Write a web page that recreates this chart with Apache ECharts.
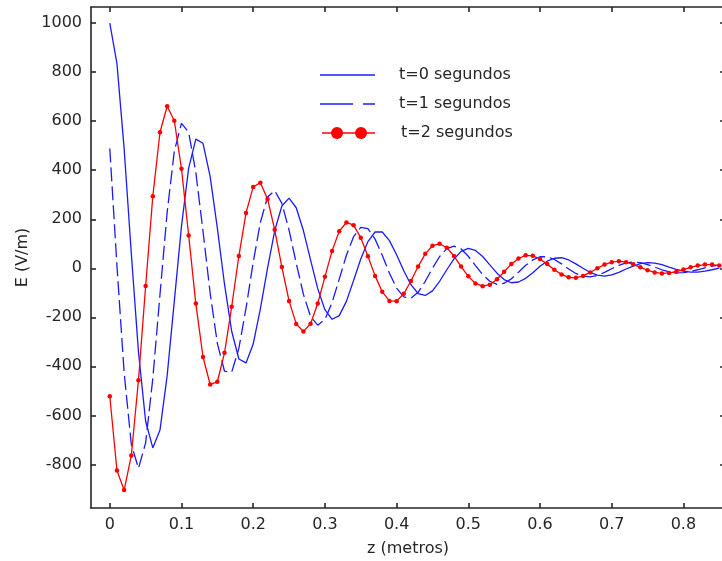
<!DOCTYPE html>
<html>
<head>
<meta charset="utf-8">
<script src="https://cdn.jsdelivr.net/npm/echarts@6/dist/echarts.min.js"></script>
<style>
  html, body { margin: 0; padding: 0; background: #fff; }
  #chart { width: 722px; height: 561px; }
</style>
</head>
<body>
<div id="chart"></div>
<script>
// posiciones z (m) muestreadas cada 0.01
const zMetros = [
  0, 0.01, 0.02, 0.03, 0.04, 0.05, 0.06, 0.07, 0.08, 0.09,
  0.1, 0.11, 0.12, 0.13, 0.14, 0.15, 0.16, 0.17, 0.18, 0.19,
  0.2, 0.21, 0.22, 0.23, 0.24, 0.25, 0.26, 0.27, 0.28, 0.29,
  0.3, 0.31, 0.32, 0.33, 0.34, 0.35, 0.36, 0.37, 0.38, 0.39,
  0.4, 0.41, 0.42, 0.43, 0.44, 0.45, 0.46, 0.47, 0.48, 0.49,
  0.5, 0.51, 0.52, 0.53, 0.54, 0.55, 0.56, 0.57, 0.58, 0.59,
  0.6, 0.61, 0.62, 0.63, 0.64, 0.65, 0.66, 0.67, 0.68, 0.69,
  0.7, 0.71, 0.72, 0.73, 0.74, 0.75, 0.76, 0.77, 0.78, 0.79,
  0.8, 0.81, 0.82, 0.83, 0.84, 0.85
]

// campo E (V/m)
const eT0 = [
  1000, 835, 489, 61, -341, -624, -733, -660, -438, -134,
  172, 409, 527, 510, 374, 164, -65, -257, -370, -386,
  -309, -166, 1, 153, 254, 286, 247, 154, 34, -83,
  -169, -208, -193, -135, -50, 38, 109, 148, 148, 113,
  55, -10, -67, -103, -111, -92, -53, -6, 38, 69,
  81, 73, 48, 14, -20, -46, -59, -56, -41, -18,
  8, 29, 41, 43, 34, 18, 0, -17, -28, -32,
  -27, -17, -3, 9, 19, 23, 21, 15, 5, -4,
  -12, -16, -16, -12, -6, 1
]
const eT1 = [
  489, 10, -425, -718, -816, -712, -450, -107, 228, 478,
  591, 555, 391, 151, -102, -306, -420, -424, -327, -163,
  24, 187, 291, 317, 265, 156, 21, -106, -197, -232,
  -209, -140, -44, 53, 129, 167, 162, 119, 53, -20,
  -81, -117, -122, -98, -53, 0, 48, 80, 90, 79,
  49, 11, -26, -53, -66, -61, -43, -16, 12, 34,
  47, 47, 36, 18, -3, -21, -32, -35, -29, -17,
  -2, 12, 22, 26, 23, 15, 5, -6, -14, -19,
  -18, -13, -6, 2, 9, 13
]
const eT2 = [
  -522, -825, -905, -764, -457, -72, 294, 555, 661, 602,
  406, 134, -144, -362, -474, -463, -345, -157, 50, 226,
  332, 349, 283, 157, 5, -133, -227, -258, -226, -144,
  -35, 71, 151, 187, 176, 125, 49, -31, -96, -133,
  -134, -104, -52, 7, 59, 92, 100, 84, 50, 7,
  -33, -62, -73, -67, -45, -14, 17, 40, 53, 51,
  38, 17, -6, -25, -37, -39, -31, -17, 0, 15,
  25, 29, 25, 16, 4, -8, -17, -21, -19, -14,
  -5, 4, 11, 15, 15, 11
]

const xTicks = [0, 0.1, 0.2, 0.3, 0.4, 0.5, 0.6, 0.7, 0.8]
const yTicks = [-800, -600, -400, -200, 0, 200, 400, 600, 800, 1000]
const seriesNames = ['t=0 segundos', 't=1 segundos', 't=2 segundos']

const font = 'DejaVu Sans'
const ink = '#262626'
const blue = '#1a1aff'
const red = '#ff0000'

const zip = (ys) => zMetros.map((z, i) => [z, ys[i]])

const frameLine = { show: true, onZero: false, lineStyle: { color: ink, width: 1.6 } }
const xTick = { show: true, inside: true, length: 5, customValues: xTicks, lineStyle: { color: ink, width: 1.6 } }
const yTick = { show: true, inside: true, length: 5, customValues: yTicks, lineStyle: { color: ink, width: 1.6 } }

const chart = echarts.init(document.getElementById('chart'), null, { renderer: 'canvas' })

chart.setOption({
  animation: false,
  backgroundColor: '#fff',
  grid: { left: 91, top: 7, width: 634, height: 501, containLabel: false, outerBoundsMode: 'none' },
  xAxis: [
    {
      type: 'value', position: 'bottom', min: -0.0262, max: 0.858,
      axisLine: frameLine, axisTick: xTick, splitLine: { show: false },
      axisLabel: {
        customValues: xTicks, margin: 9, color: ink, fontSize: 16, fontFamily: font,
        formatter: (v) => String(Math.round(v * 10) / 10)
      },
      name: 'z (metros)', nameLocation: 'middle', nameGap: 33,
      nameTextStyle: { color: ink, fontSize: 16, fontFamily: font }
    },
    {
      type: 'value', position: 'top', min: -0.0262, max: 0.858,
      axisLine: frameLine, axisTick: xTick, splitLine: { show: false },
      axisLabel: { show: false }
    }
  ],
  yAxis: [
    {
      type: 'value', position: 'left', min: -978, max: 1066,
      axisLine: frameLine, axisTick: yTick, splitLine: { show: false },
      axisLabel: {
        customValues: yTicks, margin: 9, color: ink, fontSize: 16, fontFamily: font,
        formatter: (v) => String(Math.round(v))
      },
      name: 'E (V/m)', nameLocation: 'middle', nameGap: 53,
      nameTextStyle: { color: ink, fontSize: 16, fontFamily: font }
    },
    {
      type: 'value', position: 'right', min: -978, max: 1066,
      axisLine: frameLine, axisTick: yTick, splitLine: { show: false },
      axisLabel: { show: false }
    }
  ],
  series: [
    {
      name: seriesNames[0], type: 'line', data: zip(eT0),
      symbol: 'none', lineStyle: { color: blue, width: 1.3 }, z: 2
    },
    {
      name: seriesNames[1], type: 'line', data: zip(eT1),
      symbol: 'none', lineStyle: { color: blue, width: 1.3, type: [14, 5] }, z: 3
    },
    {
      name: seriesNames[2], type: 'line', data: zip(eT2),
      symbol: 'circle', symbolSize: 4.5, showAllSymbol: true,
      itemStyle: { color: red }, lineStyle: { color: red, width: 1.3 }, z: 4
    }
  ],
  // leyenda dibujada a mano (estilo matlab)
  graphic: [
    { type: 'line', shape: { x1: 320, y1: 75, x2: 375, y2: 75 }, style: { stroke: blue, lineWidth: 1.5 } },
    { type: 'line', shape: { x1: 320, y1: 104, x2: 353, y2: 104 }, style: { stroke: blue, lineWidth: 1.5 } },
    { type: 'line', shape: { x1: 363, y1: 104, x2: 375, y2: 104 }, style: { stroke: blue, lineWidth: 1.5 } },
    { type: 'line', shape: { x1: 322, y1: 133, x2: 375, y2: 133 }, style: { stroke: red, lineWidth: 1.5 } },
    { type: 'circle', shape: { cx: 337, cy: 133, r: 6 }, style: { fill: red } },
    { type: 'circle', shape: { cx: 361, cy: 133, r: 6 }, style: { fill: red } },
    { type: 'text', x: 399, y: 75, style: { text: seriesNames[0], fill: ink, font: '16px "DejaVu Sans"', verticalAlign: 'middle' } },
    { type: 'text', x: 399, y: 104, style: { text: seriesNames[1], fill: ink, font: '16px "DejaVu Sans"', verticalAlign: 'middle' } },
    { type: 'text', x: 401, y: 133, style: { text: seriesNames[2], fill: ink, font: '16px "DejaVu Sans"', verticalAlign: 'middle' } }
  ]
})
</script>
</body>
</html>
